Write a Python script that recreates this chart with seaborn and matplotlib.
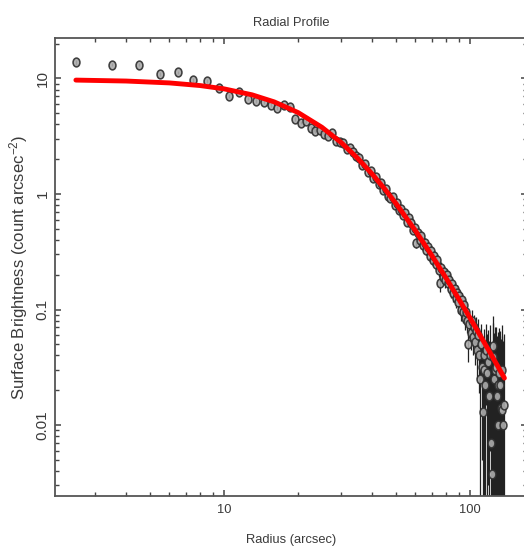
import numpy as np
import pandas as pd
import matplotlib
matplotlib.use("Agg")
import matplotlib.pyplot as plt
import matplotlib.ticker as mticker
from matplotlib.path import Path
from matplotlib.transforms import Affine2D
import seaborn as sns

# ---------------- data ----------------
radius = [r + 0.5 for r in range(2, 138)]  # bin centres 2.5 ... 137.5 arcsec

brightness = [
    13.8, 13.2, 13.2, 11.0, 11.3, 9.7, 9.5, 8.3, 7.1, 7.6, 6.7, 6.35, 6.25, 5.9, 5.55, 5.85, 5.7,
    4.45, 4.15, 4.30, 3.75, 3.50, 3.55, 3.30, 3.20, 3.35, 2.90, 2.80,
    2.75, 2.45, 2.50, 2.30, 2.12, 2.05, 1.78, 1.80, 1.55, 1.58, 1.38, 1.40, 1.22, 1.25, 1.08, 1.10, 0.96, 0.93, 0.94, 0.80,
    0.83, 0.72, 0.74, 0.66, 0.68, 0.57, 0.62, 0.56, 0.49, 0.51, 0.38, 0.46, 0.40, 0.43, 0.36, 0.38, 0.33, 0.35, 0.29, 0.32,
    0.27, 0.29, 0.25, 0.27, 0.22, 0.17, 0.23, 0.19, 0.21, 0.18, 0.20, 0.17, 0.18, 0.15, 0.165, 0.14, 0.15, 0.125, 0.14, 0.115,
    0.13, 0.10, 0.12, 0.095, 0.11, 0.085, 0.095, 0.080,
    0.050, 0.075, 0.062, 0.080, 0.058, 0.070, 0.052, 0.065, 0.045, 0.060, 0.040, 0.025,
    0.050, 0.032, 0.013, 0.040, 0.030, 0.022, 0.045, 0.028, 0.035, 0.018, 0.040, 0.007, 0.0038, 0.048,
    0.039, 0.025, 0.030, 0.032, 0.018, 0.010, 0.022, 0.028, 0.022, 0.014, 0.030, 0.0136, 0.010, 0.015,
]

brightness_err = [
    0.6, 0.5, 0.45, 0.4, 0.4, 0.35, 0.33, 0.3, 0.28, 0.27, 0.25, 0.24, 0.22, 0.21, 0.2, 0.2, 0.19,
    0.16, 0.15, 0.15, 0.13, 0.12, 0.12, 0.11, 0.11, 0.11, 0.10, 0.10,
    0.10, 0.09, 0.09, 0.09, 0.08, 0.08, 0.08, 0.07, 0.07, 0.07, 0.07, 0.065, 0.06, 0.06, 0.06, 0.06, 0.055, 0.055, 0.055, 0.05,
    0.045, 0.045, 0.044, 0.043, 0.042, 0.041, 0.040, 0.040, 0.039, 0.038, 0.037, 0.036, 0.036, 0.035, 0.034, 0.034, 0.033, 0.033, 0.032, 0.032,
    0.031, 0.031, 0.030, 0.030, 0.029, 0.028, 0.028, 0.027, 0.027, 0.026, 0.026, 0.025, 0.025, 0.024, 0.024, 0.023, 0.023, 0.022, 0.022, 0.021,
    0.021, 0.020, 0.020, 0.019, 0.019, 0.018, 0.018, 0.017, 0.015, 0.018, 0.017, 0.020, 0.018, 0.020, 0.019, 0.021, 0.020, 0.022, 0.021, 0.023,
    0.025, 0.027, 0.030, 0.028, 0.030, 0.032, 0.030, 0.033, 0.032, 0.035, 0.034, 0.036, 0.035, 0.040, 0.038, 0.037, 0.040, 0.039, 0.041, 0.040,
    0.042, 0.041, 0.043, 0.042, 0.044, 0.045, 0.043, 0.046,
]

model_radius = [2.5, 4, 6, 8, 10, 13, 16, 20, 25, 30, 35, 40, 45, 50, 60, 70, 80, 90, 100, 110, 120, 130, 138]
model_brightness = [9.68, 9.50, 9.15, 8.68, 8.13, 7.22, 6.27, 5.07, 3.78, 2.78, 2.03, 1.49, 1.105, 0.828,
                    0.481, 0.293, 0.1865, 0.1234, 0.0846, 0.0596, 0.0432, 0.0320, 0.0255]

title = "Radial Profile"
x_label = "Radius (arcsec)"
y_label = "Surface Brightness (count arcsec$^{-2}$)"

# ---------------- style ----------------
sns.set_theme(style="ticks")
plt.rcParams["font.family"] = ["Liberation Sans", "DejaVu Sans"]
plt.rcParams["mathtext.fontset"] = "custom"
plt.rcParams["mathtext.rm"] = "Liberation Sans"
plt.rcParams["mathtext.it"] = "Liberation Sans"
plt.rcParams["mathtext.bf"] = "Liberation Sans:bold"
plt.rcParams["xtick.minor.size"] = 3
plt.rcParams["ytick.minor.size"] = 3
plt.rcParams["xtick.minor.width"] = 1.0
plt.rcParams["ytick.minor.width"] = 1.0

txt_col = "#3a3a3a"
hsize = 9.3

df = pd.DataFrame({"r": radius, "sb": brightness, "err": brightness_err})
mdf = pd.DataFrame({"r": model_radius, "sb": model_brightness})

# slightly tall oval marker
oval = Path.unit_circle().transformed(Affine2D().scale(0.78, 1.0))

fig = plt.figure(figsize=(5.24, 5.48), dpi=100)
ax = fig.add_axes([55 / 524, 1 - 496 / 548, (527 - 55) / 524, (496 - 38) / 548])

ax.set_xscale("log")
ax.set_yscale("log")

ax.errorbar(df["r"], df["sb"], yerr=df["err"], fmt="none", ecolor="#222222",
            elinewidth=0.9, capsize=0, zorder=2)
sns.scatterplot(data=df, x="r", y="sb", ax=ax, marker=oval, s=40,
                facecolor="#ababab", edgecolor="#2e2e2e", linewidth=1.15,
                alpha=0.9, zorder=3, legend=False)
sns.lineplot(data=mdf, x="r", y="sb", ax=ax, color="#ff0000", linewidth=3.5,
             zorder=4, legend=False)

ax.set_xlim(2.056, 170.5)
ax.set_ylim(0.00243, 22.4)

ax.xaxis.set_major_locator(mticker.LogLocator(base=10, numticks=20))
ax.xaxis.set_minor_locator(mticker.LogLocator(base=10, subs=np.arange(2, 10), numticks=100))
ax.yaxis.set_major_locator(mticker.LogLocator(base=10, numticks=20))
ax.yaxis.set_minor_locator(mticker.LogLocator(base=10, subs=np.arange(2, 10), numticks=100))
ax.xaxis.set_minor_formatter(mticker.NullFormatter())
ax.yaxis.set_minor_formatter(mticker.NullFormatter())
ax.xaxis.set_major_formatter(mticker.FuncFormatter(lambda v, p: f"{v:g}"))
ax.yaxis.set_major_formatter(mticker.FuncFormatter(lambda v, p: f"{v:g}"))

ax.tick_params(which="both", direction="in", top=True, right=True, bottom=True, left=True,
               colors="#444444", labelcolor=txt_col)
ax.tick_params(which="major", length=4.5, width=1.1)
ax.tick_params(which="minor", length=3, width=1.0)
ax.tick_params(axis="x", which="major", pad=6)
ax.tick_params(axis="y", which="major", pad=4, labelrotation=90)
for lab in ax.get_yticklabels():
    lab.set_va("center")
    lab.set_fontsize(11)
for lab in ax.get_xticklabels():
    lab.set_fontsize(hsize)

for s in ax.spines.values():
    s.set_color("#555555")
    s.set_linewidth(1.3)

ax.set_title(title, fontsize=hsize, color=txt_col, pad=9)
ax.set_xlabel(x_label, fontsize=hsize, color=txt_col, labelpad=13)
ax.set_ylabel(y_label, fontsize=12, color=txt_col, labelpad=4)

fig.savefig("out.png", dpi=100)
